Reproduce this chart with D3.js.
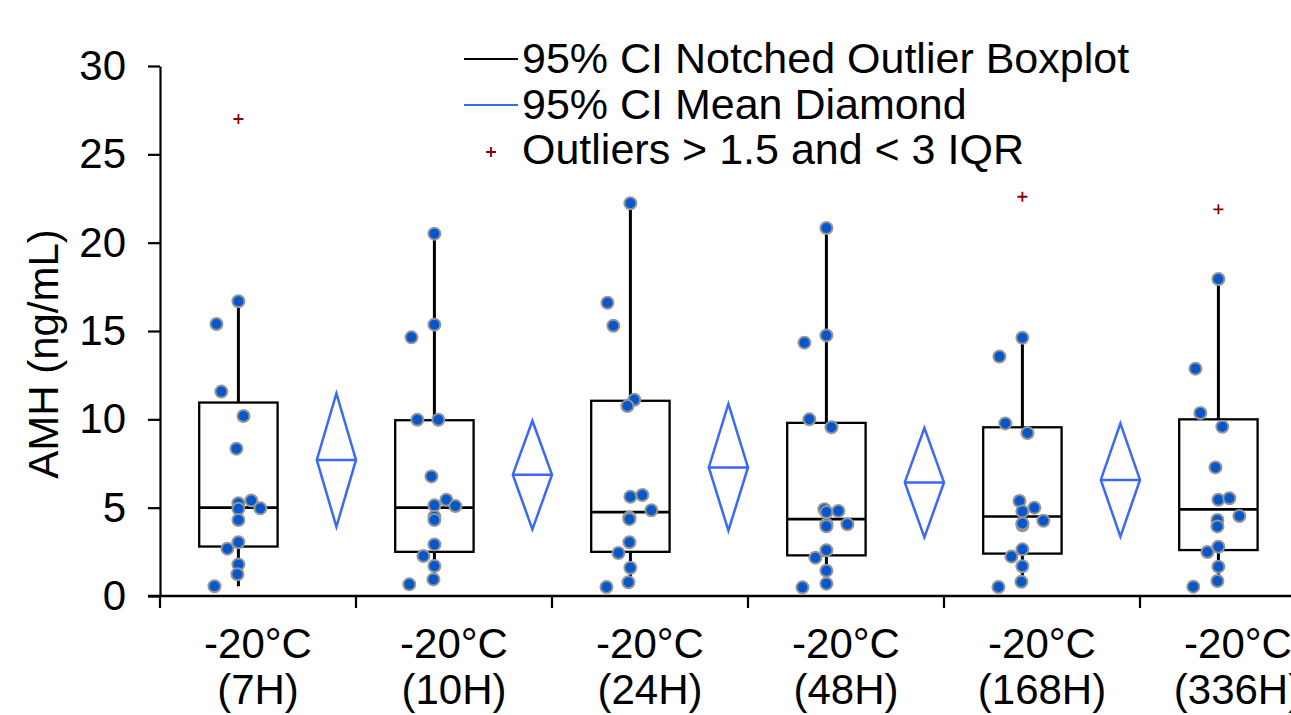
<!DOCTYPE html>
<html>
<head>
<meta charset="utf-8">
<script src="https://cdn.jsdelivr.net/npm/d3@7"></script>
<style>
  html, body { margin: 0; padding: 0; background: #fff; }
  svg { display: block; font-family: "Liberation Sans", Arial, sans-serif; }
</style>
</head>
<body>
<div id="chart"></div>
<script>
// categories and labels
const categories = ["7H", "10H", "24H", "48H", "168H", "336H"];
const tempLabel = "-20°C";
const yTicks = [0, 5, 10, 15, 20, 25, 30];

// box stats per group
const q1 = [2.8, 2.5, 2.5, 2.3, 2.4, 2.6];
const median = [5.0, 5.0, 4.75, 4.35, 4.5, 4.9];
const q3 = [10.95, 9.95, 11.05, 9.8, 9.55, 10.0];
const whiskerLo = [0.55, 0.66, 0.51, 0.49, 0.51, 0.53];
const whiskerHi = [16.68, 20.51, 22.23, 20.83, 14.62, 17.94];

// mean diamond (95% CI)
const means = [7.7, 6.87, 7.28, 6.43, 6.57, 7.0];
const ciLo = [3.92, 3.77, 3.70, 3.32, 3.36, 3.6];
const ciHi = [11.47, 9.92, 10.87, 9.51, 9.77, 10.4];

// outliers > 1.5 IQR
const outliers = [[27.0], [], [], [], [22.6], [21.89]];

// individual points
const points = [
  [16.68, 15.40, 11.57, 10.19, 8.34, 5.25, 5.41, 4.96, 4.94, 4.30, 3.04, 2.68, 1.79, 1.23, 0.55],
  [20.51, 15.36, 14.64, 9.98, 9.98, 6.77, 5.13, 5.45, 5.09, 4.49, 4.30, 2.92, 2.26, 1.70, 0.94, 0.66],
  [22.23, 16.60, 15.30, 11.11, 10.75, 5.62, 5.72, 4.85, 4.45, 4.35, 3.04, 2.43, 1.60, 0.78, 0.51],
  [20.83, 14.75, 14.34, 10.00, 9.55, 4.91, 4.75, 4.81, 4.06, 3.95, 4.06, 2.59, 2.17, 1.43, 0.70, 0.49],
  [14.62, 13.55, 9.77, 9.23, 5.38, 5.00, 4.79, 4.26, 4.00, 4.10, 2.64, 2.23, 1.68, 0.81, 0.51],
  [17.94, 12.87, 10.36, 9.58, 7.28, 5.45, 5.53, 4.53, 4.30, 3.94, 2.79, 2.49, 1.66, 0.85, 0.53]
];
// horizontal jitter of each point, as a fraction of the band width
const jitter = [
  [0, -0.112, -0.087, 0.026, -0.010, 0, 0.066, 0.112, 0, 0, 0, -0.056, 0, -0.005, -0.122],
  [0, 0, -0.117, -0.087, 0.020, -0.015, 0, 0.061, 0.107, 0, 0, 0, -0.056, 0, -0.005, -0.128],
  [0, -0.117, -0.087, 0.020, -0.015, 0, 0.061, 0.107, -0.005, -0.005, -0.005, -0.061, 0, -0.010, -0.122],
  [0, 0, -0.112, -0.087, 0.026, -0.010, 0, 0.061, 0, 0, 0.107, 0, -0.056, 0, 0, -0.122],
  [0, -0.117, -0.087, 0.026, -0.015, 0.061, 0, 0.107, 0, 0, 0, -0.056, 0, -0.005, -0.122],
  [0, -0.117, -0.092, 0.020, -0.015, 0, 0.056, 0.107, -0.005, -0.005, 0, -0.056, 0, -0.005, -0.128]
];

const legendItems = [
  "95% CI Notched Outlier Boxplot",
  "95% CI Mean Diamond",
  "Outliers > 1.5 and < 3 IQR"
];

document.addEventListener("DOMContentLoaded", function () {

const width = 1291;
const height = 715;
const margin = { top: 66, left: 160, bottom: 119 };

const blue = "#3a68f8";
const dotFill = "#0657cc";
const outlierRed = "#8b0000";

const svg = d3.select("#chart")
  .append("svg")
  .attr("width", width)
  .attr("height", height);

// scales: plot continues past the right edge of the picture
const x = d3.scaleBand()
  .domain(categories)
  .range([margin.left, margin.left + 6 * 196])
  .paddingInner(0)
  .paddingOuter(0);

const y = d3.scaleLinear()
  .domain([0, 30])
  .range([height - margin.bottom, margin.top]);

const bw = x.bandwidth();
const boxCenter = i => x(categories[i]) + bw * 0.40;
const diamondCenter = i => x(categories[i]) + bw * 0.90;
const boxHalf = bw * 0.20;
const diamondHalf = bw * 0.10;

// Y axis
const yAxis = svg.append("g")
  .attr("transform", `translate(${margin.left},0)`)
  .call(d3.axisLeft(y).tickValues(yTicks).tickSize(12).tickPadding(22).tickSizeOuter(0));
yAxis.select(".domain").attr("stroke", "#000").attr("stroke-width", 2.2);
yAxis.selectAll(".tick line").attr("stroke", "#000").attr("stroke-width", 2.2);
yAxis.selectAll(".tick text")
  .attr("fill", "#000")
  .style("font-size", "42px")
  .style("font-family", "'Liberation Sans', Arial, sans-serif");

svg.append("text")
  .attr("transform", `translate(58,${(y(0) + y(30)) / 2 + 23}) rotate(-90)`)
  .attr("text-anchor", "middle")
  .style("font-size", "42px")
  .text("AMH (ng/mL)");

// X axis: line plus ticks at band boundaries
const x0 = y(0);
svg.append("line")
  .attr("x1", margin.left - 12).attr("x2", width)
  .attr("y1", x0).attr("y2", x0)
  .attr("stroke", "#000").attr("stroke-width", 2.5);

svg.append("g")
  .selectAll("line")
  .data(categories)
  .enter().append("line")
  .attr("x1", d => x(d)).attr("x2", d => x(d))
  .attr("y1", x0).attr("y2", x0 + 12)
  .attr("stroke", "#000").attr("stroke-width", 2.2);

const xLabels = svg.append("g")
  .selectAll("text")
  .data(categories)
  .enter().append("text")
  .attr("text-anchor", "middle")
  .style("font-size", "42px");
xLabels.append("tspan")
  .attr("x", d => x(d) + bw / 2)
  .attr("y", 658)
  .text(tempLabel);
xLabels.append("tspan")
  .attr("x", d => x(d) + bw / 2)
  .attr("y", 704)
  .text(d => `(${d})`);

// whiskers
const groups = d3.range(categories.length);
const plot = svg.append("g");

plot.selectAll(".whisker-hi")
  .data(groups)
  .enter().append("line")
  .attr("x1", boxCenter).attr("x2", boxCenter)
  .attr("y1", i => y(q3[i])).attr("y2", i => y(whiskerHi[i]))
  .attr("stroke", "#000").attr("stroke-width", 3);

plot.selectAll(".whisker-lo")
  .data(groups)
  .enter().append("line")
  .attr("x1", boxCenter).attr("x2", boxCenter)
  .attr("y1", i => y(q1[i])).attr("y2", i => y(whiskerLo[i]))
  .attr("stroke", "#000").attr("stroke-width", 3);

// boxes
plot.selectAll(".box")
  .data(groups)
  .enter().append("rect")
  .attr("x", i => boxCenter(i) - boxHalf)
  .attr("width", boxHalf * 2)
  .attr("y", i => y(q3[i]))
  .attr("height", i => y(q1[i]) - y(q3[i]))
  .attr("fill", "none")
  .attr("stroke", "#000")
  .attr("stroke-width", 2.3);

plot.selectAll(".median")
  .data(groups)
  .enter().append("line")
  .attr("x1", i => boxCenter(i) - boxHalf)
  .attr("x2", i => boxCenter(i) + boxHalf)
  .attr("y1", i => y(median[i])).attr("y2", i => y(median[i]))
  .attr("stroke", "#000").attr("stroke-width", 2.7);

// mean diamonds
plot.selectAll(".diamond")
  .data(groups)
  .enter().append("path")
  .attr("d", i => {
    const cx = diamondCenter(i);
    return `M${cx},${y(ciHi[i])}L${cx + diamondHalf},${y(means[i])}L${cx},${y(ciLo[i])}L${cx - diamondHalf},${y(means[i])}Z` +
      `M${cx - diamondHalf},${y(means[i])}L${cx + diamondHalf},${y(means[i])}`;
  })
  .attr("fill", "none")
  .attr("stroke", blue)
  .attr("stroke-width", 2.5)
  .attr("stroke-linejoin", "miter");

// points
const pointData = [];
points.forEach((vals, i) => vals.forEach((v, j) => pointData.push({ g: i, v: v, j: jitter[i][j] })));

plot.selectAll(".dot")
  .data(pointData)
  .enter().append("circle")
  .attr("cx", d => boxCenter(d.g) + d.j * bw)
  .attr("cy", d => y(d.v))
  .attr("r", 6)
  .attr("fill", dotFill)
  .attr("stroke", "#959595")
  .attr("stroke-width", 2);

// outliers as red crosses
const outlierData = [];
outliers.forEach((vals, i) => vals.forEach(v => outlierData.push({ g: i, v: v })));

plot.selectAll(".outlier")
  .data(outlierData)
  .enter().append("path")
  .attr("transform", d => `translate(${boxCenter(d.g)},${y(d.v)})`)
  .attr("d", "M-5,0H5M0,-5V5")
  .attr("stroke", outlierRed)
  .attr("stroke-width", 1.8);

// legend
const legend = svg.append("g").attr("transform", "translate(464,0)");
const rowY = [73, 119, 164];

legend.selectAll("text")
  .data(legendItems)
  .enter().append("text")
  .attr("x", 58)
  .attr("y", (d, i) => rowY[i])
  .style("font-size", "43px")
  .text(d => d);

legend.append("line")
  .attr("x1", 0).attr("x2", 54)
  .attr("y1", rowY[0] - 14).attr("y2", rowY[0] - 14)
  .attr("stroke", "#000").attr("stroke-width", 2.2);

legend.append("line")
  .attr("x1", 0).attr("x2", 54)
  .attr("y1", rowY[1] - 14).attr("y2", rowY[1] - 14)
  .attr("stroke", blue).attr("stroke-width", 2.2);

legend.append("path")
  .attr("transform", `translate(27,${rowY[2] - 12})`)
  .attr("d", "M-5,0H5M0,-5V5")
  .attr("stroke", outlierRed)
  .attr("stroke-width", 1.8);

});
</script>
</body>
</html>
